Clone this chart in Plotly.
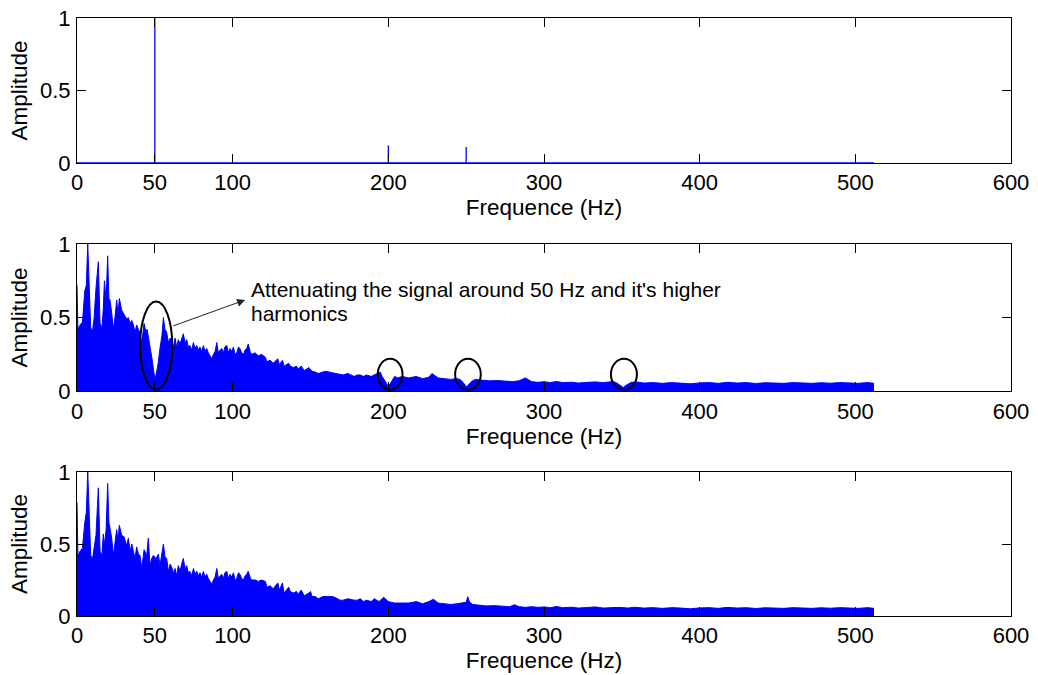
import plotly.graph_objects as go

# ---------------- data ----------------
# Top: clean spectrum (isolated spectral lines)
top_peak_freq = [50, 200, 250]
top_peak_amp = [1.0, 0.12, 0.11]
top_end_freq = 512

# Middle: filtered noisy spectrum (envelope)
mid_freq = [
    0, 0.6, 2, 3.5, 5, 6, 6.9, 7.8, 8.8, 10,
    11, 12.2, 13.7, 14.8, 16, 16.9, 17.6, 18.7, 19.7, 20.5,
    21.2, 22.3, 23.4, 24.5, 25.5, 26.3, 27.2, 28.7, 30.2, 31.9,
    33, 34.1, 35.2, 36.2, 37.3, 38.3, 39.4, 40.5, 41.6, 43.1,
    44.3, 45, 46, 47, 47.8, 48.5, 49.2, 50, 50.8, 51.5,
    52.3, 53, 53.8, 54.6, 55.5, 56.5, 57.6, 58.7, 59.8, 60.8,
    62, 63, 64, 65.1, 66.2, 67.2, 68.3, 69.4, 70.5, 71.5,
    72.6, 73.7, 74.8, 75.8, 76.9, 78, 79, 80.1, 81.2, 82.2,
    83.3, 84.4, 85.5, 86.6, 87.6, 88.7, 89.8, 90.8, 92, 93,
    94, 95, 96.2, 97.3, 98.3, 99.4, 100.5, 101.5, 102.6, 103.7,
    104.7, 105.8, 106.9, 108, 109, 110, 111.2, 112, 114.5, 116.5,
    118.5, 121, 122, 124, 126, 129, 130, 132, 133, 136,
    137, 139, 141, 142, 144, 146, 149, 150, 151, 153,
    155, 158, 160, 164, 166, 169, 171, 174, 178, 180,
    182, 184, 186, 189, 191, 194.7, 196, 198, 199, 200,
    201, 202.5, 204, 206, 209, 213, 218, 222, 226, 228,
    232, 236, 240, 244, 246, 248, 249, 250, 251, 252,
    254, 256, 260, 265, 270, 275, 280, 284, 288, 292,
    296, 300, 304, 308, 312, 318, 322, 328, 333, 338,
    342, 344, 346, 348, 350, 351, 352, 354, 356, 360,
    364, 370, 376, 382, 388, 394, 400, 406, 412, 418,
    424, 430, 436, 442, 448, 454, 460, 466, 472, 478,
    484, 490, 496, 502, 508, 512,
]
mid_amp = [
    0.72, 0.42, 0.45, 0.47, 0.68, 0.72, 1.0, 0.68, 0.43, 0.41,
    0.50, 0.70, 0.88, 0.46, 0.43, 0.56, 0.75, 0.62, 0.92, 0.63,
    0.62, 0.53, 0.42, 0.51, 0.62, 0.52, 0.63, 0.55, 0.52, 0.49,
    0.50, 0.46, 0.48, 0.45, 0.40, 0.45, 0.42, 0.40, 0.33, 0.46,
    0.40, 0.42, 0.36, 0.30, 0.26, 0.20, 0.14, 0.09, 0.11, 0.15,
    0.20, 0.27, 0.33, 0.38, 0.50, 0.42, 0.40, 0.33, 0.36, 0.34,
    0.30, 0.36, 0.30, 0.35, 0.32, 0.36, 0.39, 0.33, 0.35, 0.30,
    0.31, 0.28, 0.33, 0.29, 0.31, 0.28, 0.30, 0.27, 0.31, 0.27,
    0.29, 0.26, 0.24, 0.22, 0.25, 0.27, 0.33, 0.26, 0.28, 0.29,
    0.26, 0.30, 0.31, 0.26, 0.29, 0.27, 0.30, 0.25, 0.26, 0.30,
    0.29, 0.26, 0.25, 0.28, 0.29, 0.32, 0.27, 0.25, 0.26, 0.24,
    0.25, 0.23, 0.20, 0.21, 0.19, 0.22, 0.18, 0.21, 0.17, 0.19,
    0.17, 0.16, 0.17, 0.15, 0.17, 0.14, 0.16, 0.15, 0.135, 0.13,
    0.12, 0.13, 0.135, 0.125, 0.12, 0.11, 0.11, 0.12, 0.10, 0.11,
    0.11, 0.10, 0.11, 0.10, 0.11, 0.13, 0.10, 0.07, 0.05, 0.03,
    0.05, 0.08, 0.10, 0.09, 0.10, 0.09, 0.10, 0.085, 0.095, 0.12,
    0.09, 0.085, 0.08, 0.085, 0.08, 0.06, 0.045, 0.03, 0.035, 0.05,
    0.07, 0.08, 0.075, 0.07, 0.072, 0.07, 0.065, 0.07, 0.09, 0.065,
    0.06, 0.064, 0.058, 0.066, 0.058, 0.061, 0.055, 0.06, 0.063, 0.058,
    0.06, 0.065, 0.06, 0.045, 0.03, 0.025, 0.035, 0.05, 0.06, 0.062,
    0.055, 0.058, 0.053, 0.058, 0.055, 0.05, 0.056, 0.058, 0.053, 0.06,
    0.055, 0.058, 0.052, 0.057, 0.055, 0.053, 0.058, 0.055, 0.053, 0.057,
    0.054, 0.058, 0.055, 0.053, 0.058, 0.053,
]

# Bottom: unfiltered noisy spectrum (envelope)
bot_freq = [
    0, 0.6, 2, 3.5, 5, 6, 6.9, 7.8, 8.8, 10,
    11, 12.2, 13.7, 14.8, 16, 16.9, 17.6, 18.7, 19.7, 20.5,
    21.2, 22.3, 23.4, 24.5, 25.5, 26.3, 27.2, 28.7, 30.2, 31.9,
    33, 34.1, 35.2, 36.2, 37.3, 38.3, 39.4, 40.5, 41.6, 43.1,
    44.8, 45.8, 46.9, 48, 49, 50.8, 52.3, 53.3, 54.4, 55.5,
    56.5, 57.6, 58.7, 59.8, 60.8, 62, 63, 64, 65.1, 66.2,
    67.2, 68.3, 69.4, 70.5, 71.5, 72.6, 73.7, 74.8, 75.8, 76.9,
    78, 79, 80.1, 81.2, 82.2, 83.3, 84.4, 85.5, 86.6, 87.6,
    88.7, 89.8, 90.8, 92, 93, 94, 95, 96.2, 97.3, 98.3,
    99.4, 100.5, 101.5, 102.6, 103.7, 104.7, 105.8, 106.9, 108, 109,
    110, 111.2, 112, 114.5, 116.5, 118.5, 121, 122, 124, 126,
    129, 130, 132, 133, 136, 137, 139, 141, 142, 144,
    146, 149, 150, 151, 153, 155, 158, 160, 164, 166,
    169, 171, 174, 178, 180, 182, 184, 186, 189, 191,
    194, 197, 200, 204, 209, 213, 218, 222, 226, 229,
    232, 236, 240, 244, 248, 250, 251, 252, 254, 258,
    263, 268, 273, 278, 281, 284, 288, 292, 296, 300,
    304, 308, 312, 318, 322, 328, 333, 338, 343, 348,
    354, 358, 364, 370, 376, 382, 388, 394, 400, 406,
    412, 418, 424, 430, 436, 442, 448, 454, 460, 466,
    472, 478, 484, 490, 496, 502, 508, 512,
]
bot_amp = [
    0.79, 0.42, 0.45, 0.47, 0.65, 0.72, 1.0, 0.70, 0.42, 0.40,
    0.47, 0.56, 0.89, 0.45, 0.42, 0.57, 0.49, 0.60, 0.92, 0.65,
    0.61, 0.54, 0.42, 0.50, 0.60, 0.52, 0.63, 0.56, 0.55, 0.49,
    0.54, 0.45, 0.50, 0.45, 0.40, 0.48, 0.43, 0.42, 0.33, 0.46,
    0.42, 0.54, 0.35, 0.40, 0.42, 0.40, 0.43, 0.35, 0.42, 0.50,
    0.41, 0.40, 0.31, 0.36, 0.34, 0.30, 0.33, 0.28, 0.35, 0.31,
    0.36, 0.40, 0.33, 0.35, 0.30, 0.31, 0.28, 0.33, 0.29, 0.31,
    0.28, 0.30, 0.27, 0.31, 0.27, 0.29, 0.26, 0.24, 0.22, 0.25,
    0.27, 0.33, 0.26, 0.28, 0.29, 0.26, 0.30, 0.31, 0.26, 0.29,
    0.27, 0.30, 0.25, 0.26, 0.30, 0.29, 0.26, 0.25, 0.28, 0.29,
    0.31, 0.27, 0.25, 0.25, 0.24, 0.25, 0.24, 0.20, 0.21, 0.19,
    0.23, 0.18, 0.23, 0.16, 0.20, 0.17, 0.16, 0.17, 0.15, 0.18,
    0.14, 0.16, 0.17, 0.135, 0.135, 0.12, 0.135, 0.135, 0.135, 0.128,
    0.11, 0.11, 0.12, 0.11, 0.11, 0.12, 0.10, 0.11, 0.10, 0.12,
    0.10, 0.13, 0.10, 0.09, 0.09, 0.09, 0.10, 0.085, 0.10, 0.116,
    0.09, 0.085, 0.08, 0.085, 0.09, 0.095, 0.134, 0.10, 0.08, 0.075,
    0.07, 0.072, 0.07, 0.065, 0.078, 0.065, 0.06, 0.065, 0.06, 0.063,
    0.058, 0.066, 0.058, 0.061, 0.055, 0.06, 0.063, 0.055, 0.058, 0.06,
    0.055, 0.061, 0.055, 0.058, 0.053, 0.058, 0.055, 0.05, 0.056, 0.058,
    0.053, 0.06, 0.055, 0.058, 0.052, 0.057, 0.055, 0.053, 0.058, 0.055,
    0.053, 0.057, 0.054, 0.058, 0.055, 0.053, 0.058, 0.053,
]

x_tick_vals = [0, 50, 100, 200, 300, 400, 500, 600]
x_tick_text = ["0", "50", "100", "200", "300", "400", "500", "600"]
y_tick_vals = [0, 0.5, 1]
y_tick_text = ["0", "0.5", "1"]

x_title = "Frequence (Hz)"
y_title = "Amplitude"
note_line1 = "Attenuating the signal around 50 Hz and it's higher"
note_line2 = "harmonics"

# circled regions on the middle plot: (x0, x1, y0, y1)
circles = [(40.5, 61.2, 0.01, 0.61), (193.2, 209.1, 0.01, 0.22),
           (242.9, 259.4, 0.01, 0.22), (343.0, 359.7, 0.01, 0.22)]

# ---------------- figure ----------------
FONT = "Liberation Sans, Arial, Helvetica, sans-serif"
BLUE = "#0000ff"
TICK_SIZE = 22
TITLE_SIZE = 22.5

top_x = [0]
top_y = [0]
for f, a in zip(top_peak_freq, top_peak_amp):
    top_x += [f, f, f]
    top_y += [0, a, 0]
top_x.append(top_end_freq)
top_y.append(0)

fig = go.Figure()
fig.add_trace(go.Scatter(x=top_x, y=top_y, mode="lines",
                         line=dict(color=BLUE, width=1.3),
                         xaxis="x", yaxis="y", showlegend=False))
fig.add_trace(go.Scatter(x=mid_freq, y=mid_amp, mode="lines", fill="tozeroy",
                         fillcolor=BLUE, line=dict(color=BLUE, width=1),
                         xaxis="x2", yaxis="y2", showlegend=False))
fig.add_trace(go.Scatter(x=bot_freq, y=bot_amp, mode="lines", fill="tozeroy",
                         fillcolor=BLUE, line=dict(color=BLUE, width=1),
                         xaxis="x3", yaxis="y3", showlegend=False))

domains = [[0.7575, 1.0], [0.376, 0.622], [0.0, 0.2408]]


def xax(anchor):
    return dict(range=[0, 600], tickmode="array", tickvals=x_tick_vals,
                ticktext=x_tick_text, ticks="inside", ticklen=9,
                tickcolor="black", showline=True, linecolor="black",
                linewidth=1, mirror="ticks", showgrid=False, zeroline=False,
                anchor=anchor, domain=[0, 1], layer="above traces",
                ticklabelstandoff=0, automargin=False,
                tickfont=dict(family=FONT, size=TICK_SIZE, color="black"),
                title=dict(text=x_title, standoff=0,
                           font=dict(family=FONT, size=TITLE_SIZE,
                                     color="black")))


def yax(anchor, dom):
    return dict(range=[0, 1], tickmode="array", tickvals=y_tick_vals,
                ticktext=y_tick_text, ticks="inside", ticklen=9,
                tickcolor="black", showline=True, linecolor="black",
                linewidth=1, mirror="ticks", showgrid=False, zeroline=False,
                anchor=anchor, domain=dom, layer="above traces",
                ticklabelstandoff=1, automargin=False,
                tickfont=dict(family=FONT, size=TICK_SIZE, color="black"),
                title=dict(text=y_title, standoff=6,
                           font=dict(family=FONT, size=TITLE_SIZE,
                                     color="black")))


fig.update_layout(
    width=1038, height=675,
    margin=dict(l=77, r=27, t=18, b=59, autoexpand=False),
    paper_bgcolor="white", plot_bgcolor="white",
    xaxis=xax("y"), yaxis=yax("x", domains[0]),
    xaxis2=xax("y2"), yaxis2=yax("x2", domains[1]),
    xaxis3=xax("y3"), yaxis3=yax("x3", domains[2]),
)

for (x0, x1, y0, y1) in circles:
    fig.add_shape(type="circle", xref="x2", yref="y2", x0=x0, x1=x1,
                  y0=y0, y1=y1, line=dict(color="black", width=2))

fig.add_annotation(xref="x2", yref="y2", x=108, y=0.62, ax=60.9, ay=0.44,
                   axref="x2", ayref="y2", text="", showarrow=True,
                   arrowhead=2, arrowsize=1.6, arrowwidth=1,
                   arrowcolor="#222222")
fig.add_annotation(xref="x2", yref="y2", x=110.5, y=0.69, text=note_line1,
                   showarrow=False, xanchor="left", yanchor="middle",
                   font=dict(family=FONT, size=21, color="black"))
fig.add_annotation(xref="x2", yref="y2", x=110.5, y=0.53, text=note_line2,
                   showarrow=False, xanchor="left", yanchor="middle",
                   font=dict(family=FONT, size=21, color="black"))

fig.write_html("out.html",
               config={"displayModeBar": False},
               post_script="document.body.style.margin='0px';"
                           "document.body.style.overflow='hidden';")
